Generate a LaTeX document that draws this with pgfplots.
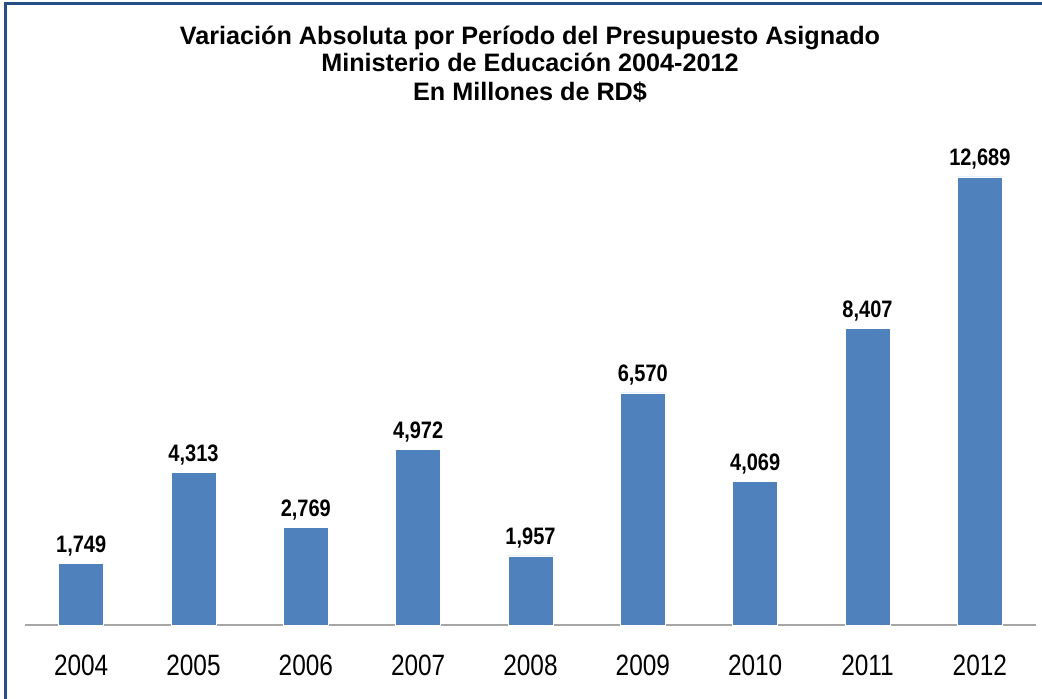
\documentclass[border=0pt]{standalone}
\usepackage{fontspec}
\setmainfont{Liberation Sans}
\usepackage{pgfplots}
\pgfplotsset{compat=1.18}
\definecolor{barBlue}{HTML}{4F81BD}
\definecolor{frameBlue}{HTML}{254F85}
\definecolor{axGray}{HTML}{A6A6A6}
\newcommand\yl[1]{\scalebox{0.83}[1]{#1}}

\begin{document}
\begin{tikzpicture}
% 1 px of the reference = 0.5pt; axis origin at px (25,625)
\useasboundingbox (-12.5pt,-36.5pt) rectangle (508.5pt,312.5pt);
\draw[frameBlue, line width=1.5pt] (-9.6pt,-60pt) -- (-9.6pt,310.6pt) -- (540pt,310.6pt);
\begin{scope}[every node/.style={anchor=base, inner sep=0pt, font=\bfseries\fontsize{12.6}{14}\selectfont}]
\node at (252.5pt,290.5pt) {Variación Absoluta por Período del Presupuesto Asignado};
\node at (252.5pt,276.5pt) {Ministerio de Educación 2004-2012};
\node at (252.5pt,262.5pt) {En Millones de RD\$};
\end{scope}
\begin{axis}[
    at={(0,0)}, anchor=south west,
    scale only axis,
    width=505.5pt, height=247.2pt,
    xmin=-0.5, xmax=8.5,
    ymin=0, ymax=14000,
    axis x line*=bottom,
    axis y line=none,
    x axis line style={axGray, line width=0.6pt, -},
    xtick=data,
    xticklabels={\yl{2004},\yl{2005},\yl{2006},\yl{2007},\yl{2008},\yl{2009},\yl{2010},\yl{2011},\yl{2012}},
    major tick length=0pt,
    xticklabel style={font=\fontsize{14.7}{16}\selectfont, inner sep=0pt, anchor=north, yshift=-15pt},
    ybar, bar width=22.5pt,
    /pgf/number format/assume math mode=true,
    /pgf/number format/1000 sep={,},
    nodes near coords={\scalebox{0.84}[1]{\pgfmathprintnumber{\pgfplotspointmeta}}},
    nodes near coords style={font=\bfseries\fontsize{11.9}{13}\selectfont, inner sep=0pt, anchor=base, yshift=5.5pt},
]
\addplot[fill=barBlue, draw=white, line width=0.3pt] coordinates {
    (0,1749) (1,4313) (2,2769) (3,4972) (4,1957)
    (5,6570) (6,4069) (7,8407) (8,12689)
};
\end{axis}
\end{tikzpicture}
\end{document}
